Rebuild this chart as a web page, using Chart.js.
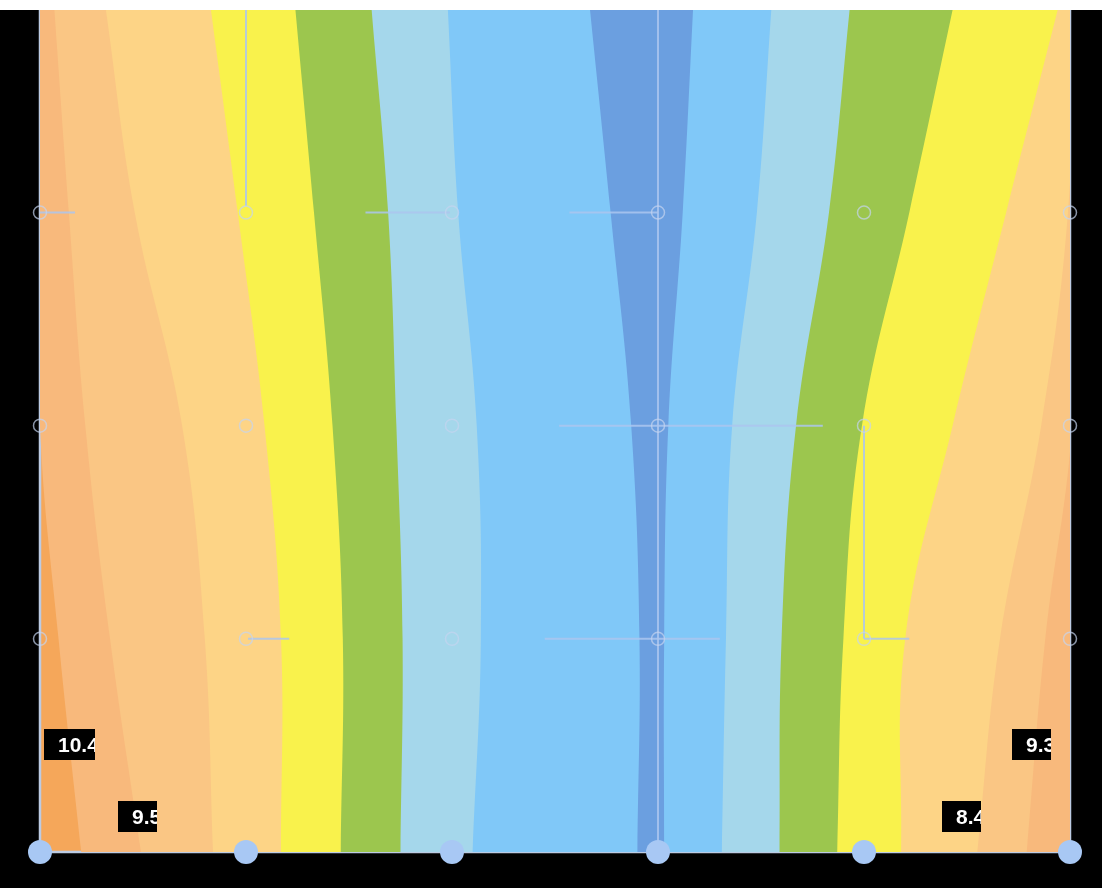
<!DOCTYPE html>
<html>
<head>
<meta charset="utf-8">
<script src="https://cdn.jsdelivr.net/npm/chart.js@4.4.1/dist/chart.umd.min.js"></script>
<style>
    html, body { margin: 0; padding: 0; background: #fff; }
    #back { position: absolute; left: 0; top: 10px; width: 1102px; height: 878px; background: #000; }
    #contourChart { position: absolute; left: 0; top: -2px; }
</style>
</head>
<body>
<div id="back"></div>
<canvas id="contourChart" width="1102" height="890"></canvas>
<script>
// rows where the band edges were read (bottom to top)
const rowLevels = [0, 1, 2, 3, 3.95];

// band edges, x at each row level, left to right across the plot
const edge1  = [0.20, 0.09, 0.00, 0.00, 0.00];
const edge2  = [0.49, 0.34, 0.22, 0.14, 0.07];
const edge3  = [0.84, 0.80, 0.69, 0.46, 0.32];
const edge4  = [1.17, 1.17, 1.09, 0.96, 0.83];
const edge5  = [1.46, 1.47, 1.42, 1.33, 1.24];
const edge6  = [1.75, 1.76, 1.73, 1.69, 1.61];
const edge7  = [2.10, 2.14, 2.12, 2.03, 1.98];
const edge8  = [2.90, 2.91, 2.87, 2.77, 2.67];
const edge9  = [3.03, 3.03, 3.05, 3.12, 3.17];
const edge10 = [3.31, 3.33, 3.36, 3.48, 3.55];
const edge11 = [3.59, 3.60, 3.67, 3.83, 3.93];
const edge12 = [3.87, 3.90, 3.99, 4.22, 4.43];
const edge13 = [4.18, 4.20, 4.43, 4.69, 4.94];
const edge14 = [4.55, 4.66, 4.86, 4.99, 5.02];
const edge15 = [4.79, 4.88, 5.01, 5.02, 5.02];

// grid of sample points
const gridCols = [0, 1, 2, 3, 4, 5];
const gridRows = [1, 2, 3];
const baseRow = 0;

// bar segments [[x0, y0], [x1, y1]]
const barSegments = [
    [[1, 3.03], [1, 3.95]],
    [[0, 3], [0.17, 3]],
    [[1.58, 3], [1.99, 3]],
    [[2.57, 3], [3, 3]],
    [[3, 0], [3, 3.95]],
    [[2.52, 2], [3.8, 2]],
    [[4, 1], [4, 2]],
    [[1.01, 1], [1.21, 1]],
    [[2.45, 1], [3.3, 1]],
    [[4, 1], [4.22, 1]]
];

// value labels
const boxLabels = ['10.4', '9.5', '9.3', '8.4'];
const boxLabelX = [0.02, 0.38, 4.72, 4.38];
const boxLabelY = [0.505, 0.167, 0.505, 0.167];

const levelColors = {
    c0: '#f5a75a', c1: '#f8b97c', c2: '#fac684', c3: '#fdd486', c4: '#f9f24c',
    c5: '#9cc64e', c6: '#a5d7eb', c7: '#80c8f8', c8: '#6b9fe0'
};

// edge -> colour on its right side
const bands = [
    [edge1, 'c1'], [edge2, 'c2'], [edge3, 'c3'], [edge4, 'c4'], [edge5, 'c5'],
    [edge6, 'c6'], [edge7, 'c7'], [edge8, 'c8'], [edge9, 'c7'], [edge10, 'c6'],
    [edge11, 'c5'], [edge12, 'c4'], [edge13, 'c3'], [edge14, 'c2'], [edge15, 'c1']
];

// leftmost edge must be painted first -> last dataset
const bandDatasets = bands.map(([edge, level]) => ({
    data: edge.map((x, i) => ({ x: x, y: rowLevels[i] })),
    borderWidth: 0,
    pointRadius: 0,
    tension: 0.4,
    backgroundColor: levelColors[level],
    fill: { value: 5 }
})).reverse();

const segmentDatasets = barSegments.map(seg => ({
    data: seg.map(p => ({ x: p[0], y: p[1] })),
    borderColor: 'rgba(172, 198, 238, 0.85)',
    borderWidth: 2,
    pointRadius: 0,
    tension: 0,
    fill: false
}));

const gridPoints = [];
gridRows.forEach(r => gridCols.forEach(c => gridPoints.push({ x: c, y: r })));

const pointDatasets = [
    {
        data: gridPoints,
        showLine: false,
        pointRadius: 6.5,
        pointBorderWidth: 1.5,
        pointBackgroundColor: 'rgba(0,0,0,0)',
        pointBorderColor: 'rgba(196, 212, 240, 0.7)',
        clip: false
    },
    {
        data: gridCols.map(c => ({ x: c, y: baseRow })),
        showLine: false,
        pointRadius: 12,
        pointBorderWidth: 0,
        pointBackgroundColor: '#a8c8f4',
        clip: false
    }
];

const framePlugin = {
    id: 'frame',
    beforeDraw(chart) {
        const { ctx, chartArea: a } = chart;
        ctx.save();
        ctx.fillStyle = levelColors.c0;
        ctx.fillRect(a.left, a.top, a.right - a.left, a.bottom - a.top);
        ctx.restore();
    },
    beforeDatasetsDraw(chart) {
        const { ctx, chartArea: a } = chart;
        ctx.save();
        ctx.strokeStyle = '#bccbe3';
        ctx.lineWidth = 2.5;
        ctx.beginPath();
        ctx.moveTo(a.left, a.top);
        ctx.lineTo(a.left, a.bottom);
        ctx.lineTo(a.right, a.bottom);
        ctx.lineTo(a.right, a.top);
        ctx.stroke();
        ctx.restore();
    },
    afterDatasetsDraw(chart) {
        const { ctx, scales } = chart;
        ctx.save();
        ctx.font = 'bold 21px "Liberation Sans", Arial, sans-serif';
        boxLabels.forEach((text, i) => {
            const px = Math.round(scales.x.getPixelForValue(boxLabelX[i]));
            const py = Math.round(scales.y.getPixelForValue(boxLabelY[i]));
            const w = ctx.measureText(text).width;
            const boxW = Math.round(14 + w - 4);
            ctx.fillStyle = '#000';
            ctx.fillRect(px, py - 15, boxW, 31);
            ctx.save();
            ctx.beginPath();
            ctx.rect(px, py - 15, boxW, 31);
            ctx.clip();
            ctx.fillStyle = '#fff';
            ctx.fillText(text, px + 14, py + 8);
            ctx.restore();
        });
        ctx.restore();
    }
};

const chart = new Chart(document.getElementById('contourChart').getContext('2d'), {
    type: 'line',
    data: {
        datasets: [...pointDatasets, ...segmentDatasets, ...bandDatasets]
    },
    options: {
        indexAxis: 'y',
        responsive: false,
        animation: false,
        events: [],
        layout: { padding: { left: 40, right: 32, top: 12, bottom: 36 } },
        scales: {
            x: { type: 'linear', min: 0, max: 5, display: false },
            y: { type: 'linear', min: 0, max: 3.95, display: false }
        },
        plugins: {
            legend: { display: false },
            tooltip: { enabled: false }
        }
    },
    plugins: [framePlugin]
});
</script>
</body>
</html>
